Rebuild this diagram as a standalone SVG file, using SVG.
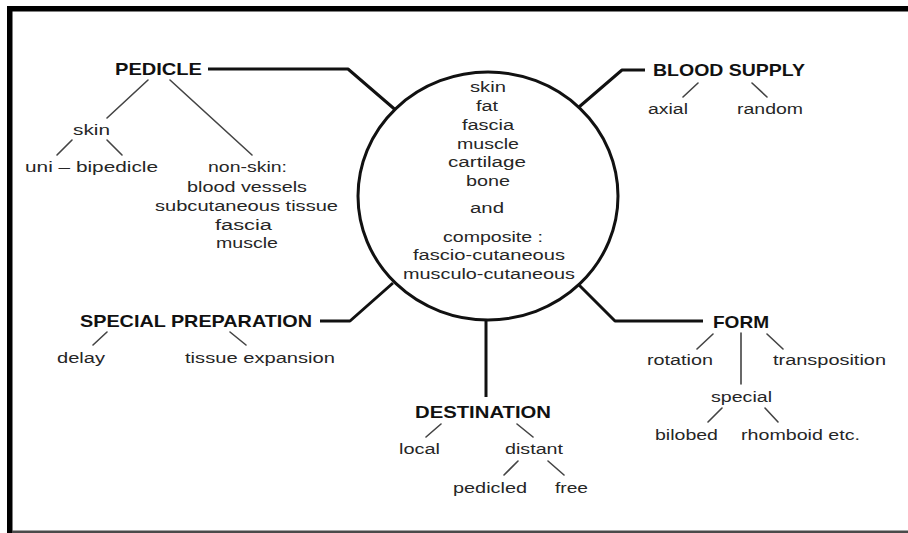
<svg xmlns="http://www.w3.org/2000/svg" width="908" height="533" viewBox="0 0 908 533">
<style>
text{font-family:"Liberation Sans",Arial,sans-serif;fill:#262626}
.t{font-size:15.5px}
.h{font-size:17px;font-weight:bold;fill:#111}
.c{fill:none;stroke:#111;stroke-width:3;stroke-linejoin:round}
.s{fill:none;stroke:#444;stroke-width:1.6;stroke-linecap:round}
</style>
<rect x="0" y="0" width="908" height="533" fill="#fff"/>
<g id="frame">
<rect x="7" y="6" width="901" height="5.5" fill="#000"/>
<rect x="7" y="6" width="5.5" height="527" fill="#000"/>
<rect x="12" y="530.5" width="896" height="2.5" fill="#4a4a4a"/>
</g>
<g id="connectors">
<path class="c" d="M208,69 H348 L395,109.5"/>
<path class="c" d="M579,107 L622,70 H645"/>
<path class="c" d="M320,321 H350 L393,283"/>
<path class="c" d="M578,284 L615,321 H703"/>
<path class="c" d="M486,320 V397"/>
<path class="s" d="M148,80 L107,118 M170,80 L252,155 M72,140 L57,155 M107,140 L122,155"/>
<path class="s" d="M698,83 L683,97 M752,83 L767,97"/>
<path class="s" d="M107,332 L93,345 M230,332 L246,345"/>
<path class="s" d="M713,334 L697,349 M741,333 V384 M767,334 L783,349 M722,408 L708,422 M765,408 L778,422"/>
<path class="s" d="M441,424 L426,437 M517,424 L533,437 M518,461 L504,475 M548,461 L564,475"/>
</g>
<g id="center">
<ellipse cx="488" cy="196" rx="130" ry="124" fill="none" stroke="#111" stroke-width="3"/>
<text class="t" x="470" y="92" textLength="36" lengthAdjust="spacingAndGlyphs">skin</text>
<text class="t" x="476" y="111" textLength="22" lengthAdjust="spacingAndGlyphs">fat</text>
<text class="t" x="462" y="129.5" textLength="52" lengthAdjust="spacingAndGlyphs">fascia</text>
<text class="t" x="457" y="148.5" textLength="62" lengthAdjust="spacingAndGlyphs">muscle</text>
<text class="t" x="448" y="167" textLength="78" lengthAdjust="spacingAndGlyphs">cartilage</text>
<text class="t" x="466" y="186" textLength="44" lengthAdjust="spacingAndGlyphs">bone</text>
<text class="t" x="470" y="213" textLength="34" lengthAdjust="spacingAndGlyphs">and</text>
<text class="t" x="443" y="242" textLength="100" lengthAdjust="spacingAndGlyphs">composite :</text>
<text class="t" x="413" y="259.5" textLength="152" lengthAdjust="spacingAndGlyphs">fascio-cutaneous</text>
<text class="t" x="403" y="278.5" textLength="172" lengthAdjust="spacingAndGlyphs">musculo-cutaneous</text>
</g>
<g id="pedicle">
<text class="h" x="115" y="74.5" textLength="87" lengthAdjust="spacingAndGlyphs">PEDICLE</text>
<text class="t" x="73" y="135" textLength="37" lengthAdjust="spacingAndGlyphs">skin</text>
<text class="t" x="25" y="171.5" textLength="133" lengthAdjust="spacingAndGlyphs">uni – bipedicle</text>
<text class="t" x="208" y="171.5" textLength="79" lengthAdjust="spacingAndGlyphs">non-skin:</text>
<text class="t" x="187" y="191.5" textLength="120" lengthAdjust="spacingAndGlyphs">blood vessels</text>
<text class="t" x="155" y="210.5" textLength="183" lengthAdjust="spacingAndGlyphs">subcutaneous tissue</text>
<text class="t" x="215" y="230" textLength="57" lengthAdjust="spacingAndGlyphs">fascia</text>
<text class="t" x="216" y="248" textLength="62" lengthAdjust="spacingAndGlyphs">muscle</text>
</g>
<g id="blood-supply">
<text class="h" x="653" y="76" textLength="152" lengthAdjust="spacingAndGlyphs">BLOOD SUPPLY</text>
<text class="t" x="648" y="114" textLength="40" lengthAdjust="spacingAndGlyphs">axial</text>
<text class="t" x="737" y="114" textLength="66" lengthAdjust="spacingAndGlyphs">random</text>
</g>
<g id="special-preparation">
<text class="h" x="80" y="327" textLength="232" lengthAdjust="spacingAndGlyphs">SPECIAL PREPARATION</text>
<text class="t" x="57" y="362.5" textLength="48" lengthAdjust="spacingAndGlyphs">delay</text>
<text class="t" x="185" y="362.5" textLength="150" lengthAdjust="spacingAndGlyphs">tissue expansion</text>
</g>
<g id="form">
<text class="h" x="713" y="327.5" textLength="56" lengthAdjust="spacingAndGlyphs">FORM</text>
<text class="t" x="647" y="365" textLength="66" lengthAdjust="spacingAndGlyphs">rotation</text>
<text class="t" x="773" y="365" textLength="113" lengthAdjust="spacingAndGlyphs">transposition</text>
<text class="t" x="711" y="401.5" textLength="61" lengthAdjust="spacingAndGlyphs">special</text>
<text class="t" x="655" y="439.5" textLength="63" lengthAdjust="spacingAndGlyphs">bilobed</text>
<text class="t" x="741" y="439.5" textLength="119" lengthAdjust="spacingAndGlyphs">rhomboid etc.</text>
</g>
<g id="destination">
<text class="h" x="415" y="417.5" textLength="136" lengthAdjust="spacingAndGlyphs">DESTINATION</text>
<text class="t" x="399" y="454" textLength="41" lengthAdjust="spacingAndGlyphs">local</text>
<text class="t" x="505" y="454" textLength="58" lengthAdjust="spacingAndGlyphs">distant</text>
<text class="t" x="453" y="493" textLength="74" lengthAdjust="spacingAndGlyphs">pedicled</text>
<text class="t" x="555" y="493" textLength="33" lengthAdjust="spacingAndGlyphs">free</text>
</g>
</svg>
